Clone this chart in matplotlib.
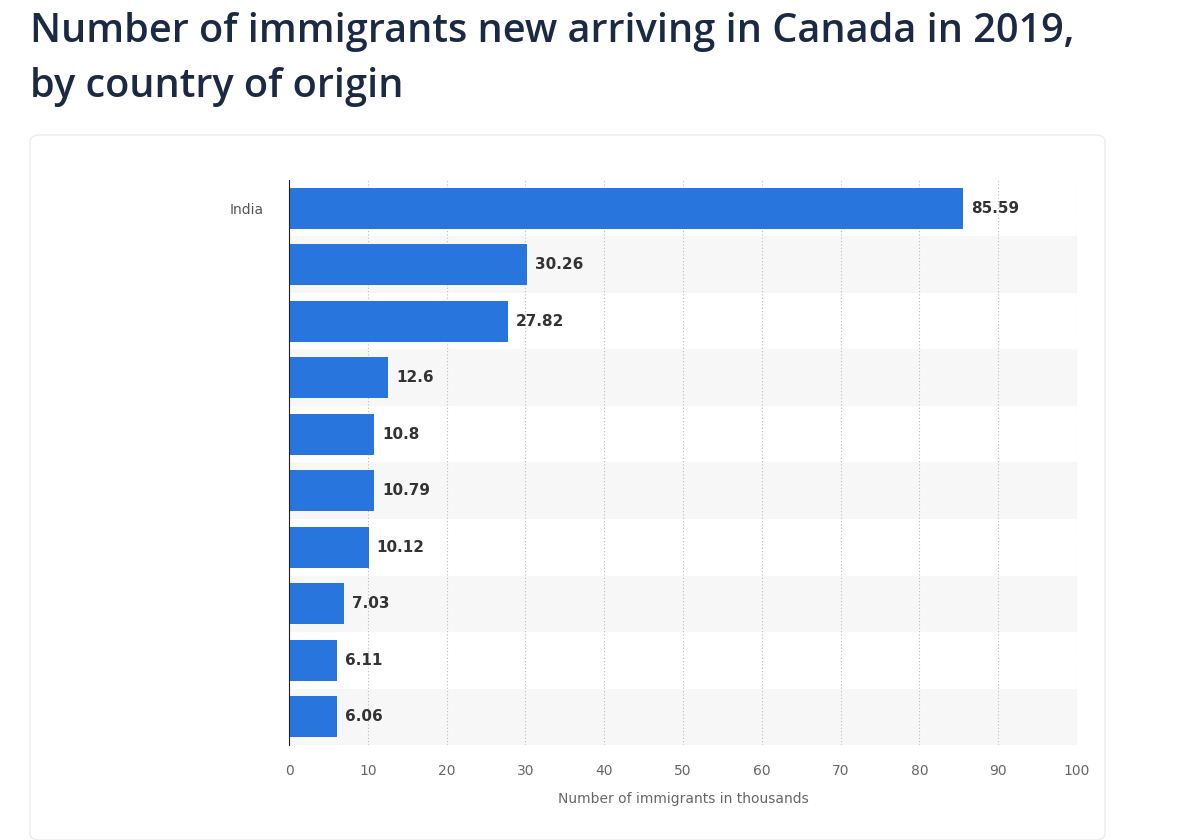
import matplotlib
matplotlib.use("Agg")
import matplotlib.pyplot as plt
from matplotlib.patches import FancyBboxPatch

categories = ["India", "", "", "", "", "", "", "", "", ""]
values = [85.59, 30.26, 27.82, 12.6, 10.8, 10.79, 10.12, 7.03, 6.11, 6.06]
value_labels = ["85.59", "30.26", "27.82", "12.6", "10.8", "10.79", "10.12", "7.03", "6.11", "6.06"]
xticks = [0, 10, 20, 30, 40, 50, 60, 70, 80, 90, 100]

fig = plt.figure(figsize=(11.89, 8.40), dpi=100)
fig.patch.set_facecolor("white")

card = FancyBboxPatch((30/1189, 0), (1105-30)/1189, (840-135)/840,
                      boxstyle="round,pad=0,rounding_size=0.008",
                      transform=fig.transFigure, facecolor="white",
                      edgecolor="#ececec", linewidth=1, zorder=-10)
fig.patches.append(card)

fig.text(30/1189, 1-32/840, "Number of immigrants new arriving in Canada in 2019,",
         fontsize=28.5, color="#1b2a44", va="center", ha="left", family="Open Sans",
         fontweight="semibold")
fig.text(30/1189, 1-87/840, "by country of origin",
         fontsize=28.5, color="#1b2a44", va="center", ha="left", family="Open Sans",
         fontweight="semibold")

ax = fig.add_axes([289/1189, 1-745/840, (1077-289)/1189, (745-180)/840])
ax.set_zorder(5)
ax.set_facecolor("none")
n = len(values)
ys = list(range(n))
for i in ys:
    if i % 2 == 1:
        ax.axhspan(i-0.5, i+0.5, color="#f7f7f7", zorder=0, lw=0)
ax.barh(ys, values, height=0.72, color="#2876dd", zorder=3)
for y, v, lab in zip(ys, values, value_labels):
    ax.text(v + 1, y, lab, va="center", ha="left", fontsize=11, color="#333333",
            fontweight="semibold", zorder=4)
ax.set_ylim(n-0.5, -0.5)
ax.set_xlim(0, 100)
ax.set_yticks(ys)
ax.set_yticklabels(categories, fontsize=10, color="#555555")
ax.set_xticks(xticks)
ax.set_xticklabels([str(t) for t in xticks], fontsize=10, color="#666666")
ax.tick_params(axis="both", length=0, pad=14)
ax.tick_params(axis="y", pad=18)
ax.grid(axis="x", linestyle=(0, (1, 2)), color="#bbbbbb", linewidth=0.8, zorder=1)
for s in ["top", "right", "bottom"]:
    ax.spines[s].set_visible(False)
ax.spines["left"].set_color("#222222")
ax.spines["left"].set_zorder(5)
ax.set_xlabel("Number of immigrants in thousands", fontsize=10, color="#666666", labelpad=10)

fig.savefig("out.png", dpi=100)
